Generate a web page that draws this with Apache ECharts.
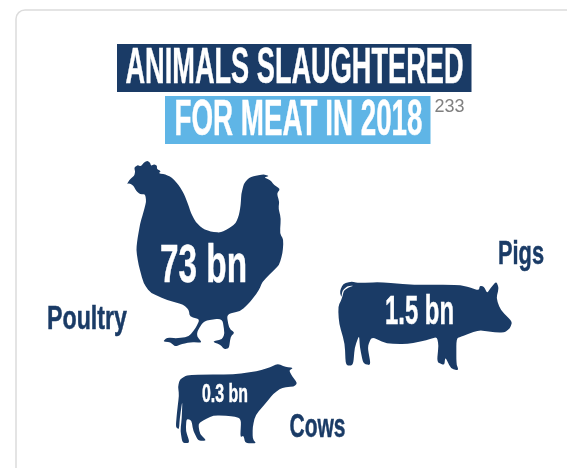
<!DOCTYPE html>
<html><head><meta charset="utf-8">
<style>html,body{margin:0;padding:0;background:#fff;overflow:hidden}#c{width:567px;height:468px}</style>
<script src="https://cdn.jsdelivr.net/npm/echarts@6/dist/echarts.min.js"></script>
</head><body><div id="c"></div>
<script>
const titleLines = ['ANIMALS SLAUGHTERED', 'FOR MEAT IN 2018'];
const footnote = '233';
const animals = ['Poultry', 'Pigs', 'Cows'];
const valuesBn = [73, 1.5, 0.3];
const unit = ' bn';

const NAVY = '#1a3b66', SKY = '#5fb5e6';
const FONT = '"Liberation Sans Narrow","Liberation Sans",sans-serif';

// silhouettes, traced outlines
const henPts = [20,87,30,72,42,62,45,50,42,38,52,30,62,34,72,22,82,17,90,24,92,32,102,28,110,32,110,42,122,48,115,55,135,58,155,68,175,90,190,115,202,145,212,175,225,200,245,220,270,230,300,233,325,220,345,205,355,180,360,150,362,115,370,85,385,68,405,62,430,58,445,63,430,67,448,75,460,90,478,102,468,115,475,140,473,160,480,190,477,235,488,255,485,295,475,330,455,350,425,380,415,405,388,442,360,468,318,478,325,520,342,533,330,545,325,580,310,583,300,570,275,560,305,553,312,535,305,490,250,497,230,530,230,545,245,563,210,562,185,567,165,575,150,562,128,560,140,548,170,550,205,545,225,520,238,493,208,485,205,465,190,450,140,435,90,413,70,385,55,330,48,285,52,250,60,205,70,170,78,140,75,118,60,118,48,108,40,92,28,85];
const pigPts = [30,185,40,162,65,155,85,160,150,157,250,165,380,165,410,170,445,182,448,168,460,170,470,190,480,175,497,155,505,175,497,205,510,240,545,275,538,295,520,308,480,305,445,300,395,318,378,325,378,400,385,420,362,415,345,380,342,405,320,395,325,345,320,320,290,330,230,342,170,340,125,320,113,350,123,405,100,400,90,350,88,315,75,350,70,405,48,405,45,340,28,280,25,230,37,205,42,183,55,174,72,167,52,170,38,182,35,203];
const cowPts = [30,75,50,62,100,60,190,60,260,50,300,38,322,28,345,38,368,40,355,48,365,65,380,85,370,95,335,98,310,115,285,145,255,180,247,215,247,250,258,263,225,262,220,240,210,245,213,190,185,182,130,180,100,195,85,205,90,235,110,255,85,255,70,225,65,195,50,190,48,225,60,262,38,262,32,225,36,190,38,135,30,190,28,222,18,215,22,170,28,120,25,95];
function toPath(p){
  const n=p.length/2, k=0.32; let s='';
  for(let i=0;i<n;i++){
    const x=p[2*i],y=p[2*i+1],a=(i+n-1)%n,b=(i+1)%n;
    const ax=x+(p[2*a]-x)*k, ay=y+(p[2*a+1]-y)*k, bx=x+(p[2*b]-x)*k, by=y+(p[2*b+1]-y)*k;
    s+=(i?'L':'M')+ax.toFixed(1)+' '+ay.toFixed(1)+'Q'+x+' '+y+' '+bx.toFixed(1)+' '+by.toFixed(1);
  }
  return s+'Z';
}
const shapes = [toPath(henPts), toPath(pigPts), toPath(cowPts)];

// layout in page-sized axis units
const markBox = [[127.3,161,156,188],[338.3,281.7,173.4,88.3],[176,364.3,120.7,79]];
const valueBox = [[203.5,267.5,87,54],[419.5,312.5,69,40],[225,395,46,26.5]];
const nameBox = [[87,319.5,80,34],[521,254.5,46,34],[317.5,427.5,56,34]];

const ctx = document.createElement('canvas').getContext('2d');
function fitScale(text, size, w){
  ctx.font = 'bold '+size+'px '+FONT;
  return w/ctx.measureText(text).width;
}
function fitText(text, cx, cy, w, size, fill){
  return {type:'text', x:cx, y:cy, scaleX:fitScale(text,size,w),
    style:{text:text, x:0, y:0, fill:fill, stroke:fill, lineWidth:0.5, align:'center', verticalAlign:'middle',
      font:'bold '+size+'px '+FONT}};
}

const chart = echarts.init(document.getElementById('c'), null, {renderer:'canvas'});
chart.setOption({
  animation:false,
  backgroundColor:'#fff',
  grid:{left:0,right:0,top:0,bottom:0},
  xAxis:{type:'value',min:0,max:567,show:false},
  yAxis:{type:'value',min:0,max:468,inverse:true,show:false},
  graphic:[
    {type:'rect',z:0,shape:{x:16,y:10,width:700,height:700,r:9},style:{fill:'#fff',stroke:'#dcdcdc',lineWidth:1.5}},
    {type:'rect',z:1,shape:{x:117,y:44,width:354.5,height:48},style:{fill:NAVY}},
    {type:'rect',z:1,shape:{x:165,y:96,width:265.5,height:48},style:{fill:SKY}},
    Object.assign(fitText(titleLines[0],294.5,69,338,50,'#fff'),{z:2}),
    Object.assign(fitText(titleLines[1],298.5,121,248,50,'#fff'),{z:2}),
    {type:'text',z:2,x:434.5,y:98,style:{text:footnote,fill:'#808080',font:'18px "Liberation Sans",sans-serif'}}
  ],
  series:[{
    type:'custom',
    coordinateSystem:'cartesian2d',
    clip:false,
    data:animals.map((n,i)=>[markBox[i][0],markBox[i][1],valuesBn[i],i]),
    encode:{x:0,y:1},
    renderItem:function(params,api){
      const i = api.value(3);
      const m = markBox[i], v = valueBox[i], t = nameBox[i];
      const tl = api.coord([m[0],m[1]]);
      const vp = api.coord([v[0],v[1]]);
      const np = api.coord([t[0],t[1]]);
      return {type:'group',children:[
        {type:'path',shape:{pathData:shapes[i],x:tl[0],y:tl[1],width:m[2],height:m[3],layout:'cover'},style:{fill:NAVY}},
        fitText(api.value(2)+unit,vp[0],vp[1],v[2],v[3],'#fff'),
        fitText(animals[i],np[0],np[1],t[2],t[3],NAVY)
      ]};
    }
  }]
});
</script></body></html>
